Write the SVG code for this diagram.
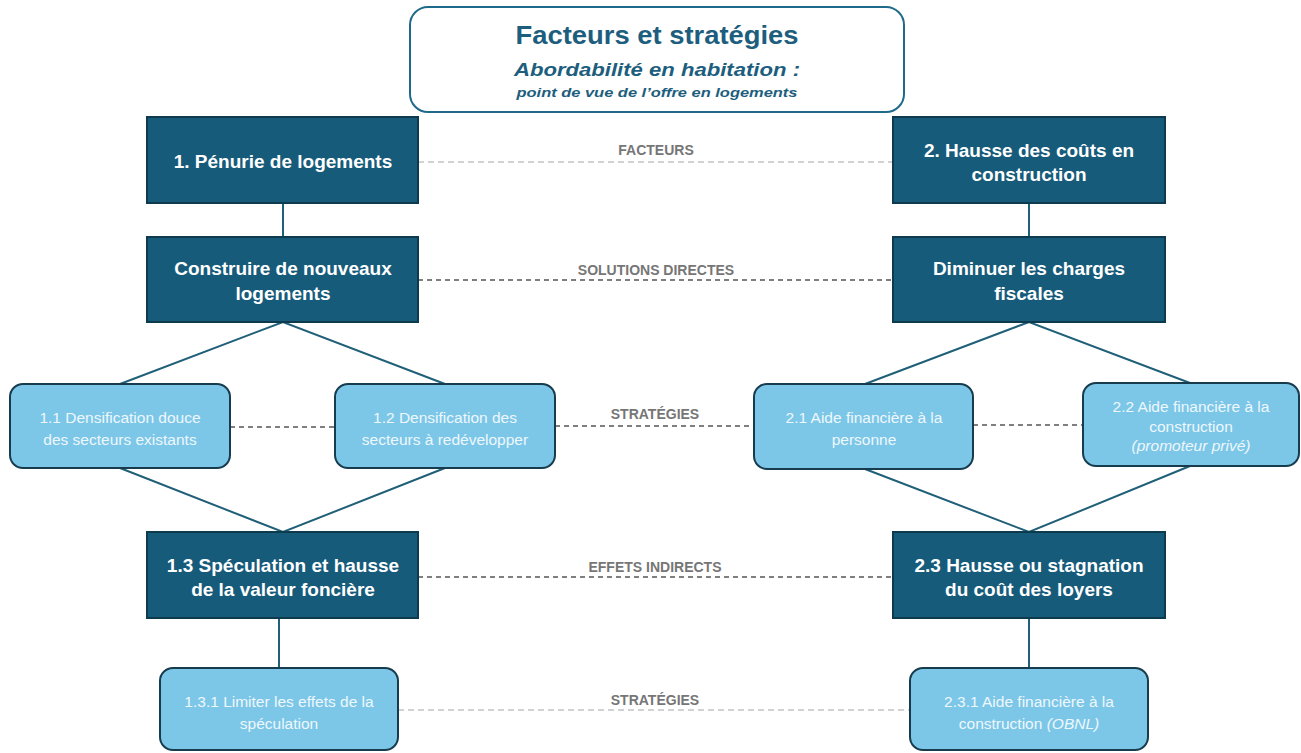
<svg xmlns="http://www.w3.org/2000/svg" width="1301" height="753" viewBox="0 0 1301 753">
<style>
.dark{fill:#175b7a;stroke:#0e3a4e;stroke-width:2}
.light{fill:#7cc6e8;stroke:#173c4e;stroke-width:2}
.dt{font-family:"Liberation Sans",Arial,sans-serif;font-weight:bold;font-size:19px;fill:#ffffff;text-anchor:middle}
.lt{font-family:"Liberation Sans",Arial,sans-serif;font-size:15.5px;fill:#eef8fc;text-anchor:middle}
.lab{font-family:"Liberation Sans",Arial,sans-serif;font-weight:bold;font-size:14px;fill:#767676;text-anchor:middle}
.solid{stroke:#1f5f78;stroke-width:2;fill:none}
.dash1{stroke:#c4c4c4;stroke-width:1.5;stroke-dasharray:6 4;fill:none}
.dash2{stroke:#555;stroke-width:1.3;stroke-dasharray:5 4;fill:none}
</style>
<rect width="1301" height="753" fill="#ffffff"/>
<g id="connectors">
<line class="dash1" x1="418" y1="162" x2="893" y2="162"/>
<line class="dash2" x1="418" y1="280" x2="893" y2="280"/>
<line class="dash2" x1="230" y1="427" x2="335" y2="427"/>
<line class="dash2" x1="555" y1="426" x2="754" y2="426"/>
<line class="dash2" x1="973" y1="425" x2="1083" y2="425"/>
<line class="dash2" x1="418" y1="577" x2="893" y2="577"/>
<line class="dash1" x1="398" y1="710" x2="910" y2="710"/>
<line class="solid" x1="283" y1="203" x2="283" y2="237"/>
<line class="solid" x1="1029" y1="203" x2="1029" y2="237"/>
<polyline class="solid" points="120,384 283,322 445,384"/>
<polyline class="solid" points="865,384 1029,322 1190,383"/>
<polyline class="solid" points="120,468 283,532 445,468"/>
<polyline class="solid" points="865,469 1029,532 1190,466"/>
<line class="solid" x1="279" y1="618" x2="279" y2="668"/>
<line class="solid" x1="1029" y1="618" x2="1029" y2="668"/>
<text class="lab" x="656" y="155">FACTEURS</text>
<text class="lab" x="656" y="275">SOLUTIONS DIRECTES</text>
<text class="lab" x="655" y="419">STRATÉGIES</text>
<text class="lab" x="655" y="572">EFFETS INDIRECTS</text>
<text class="lab" x="655" y="705">STRATÉGIES</text>
</g>
<g id="title">
<rect x="410" y="7" width="494" height="105" rx="18" fill="#ffffff" stroke="#1f6a8a" stroke-width="2"/>
<text x="657" y="44" font-family="Liberation Sans,Arial,sans-serif" font-weight="bold" font-size="25" fill="#1d5e7e" text-anchor="middle" textLength="283" lengthAdjust="spacingAndGlyphs">Facteurs et stratégies</text>
<text x="657" y="76" font-family="Liberation Sans,Arial,sans-serif" font-weight="bold" font-style="italic" font-size="19" fill="#1d5e7e" text-anchor="middle" textLength="286" lengthAdjust="spacingAndGlyphs">Abordabilité en habitation :</text>
<text x="657" y="97" font-family="Liberation Sans,Arial,sans-serif" font-weight="bold" font-style="italic" font-size="13.5" fill="#1d5e7e" text-anchor="middle" textLength="281" lengthAdjust="spacingAndGlyphs">point de vue de l’offre en logements</text>
</g>
<g id="n1">
<rect class="dark" x="147" y="117" width="271" height="86"/>
<text class="dt" x="283" y="168">1. Pénurie de logements</text>
</g>
<g id="n2">
<rect class="dark" x="893" y="117" width="272" height="86"/>
<text class="dt" x="1029" y="157">2. Hausse des coûts en</text>
<text class="dt" x="1029" y="181">construction</text>
</g>
<g id="s1">
<rect class="dark" x="147" y="237" width="271" height="85"/>
<text class="dt" x="283" y="275">Construire de nouveaux</text>
<text class="dt" x="283" y="300">logements</text>
</g>
<g id="s2">
<rect class="dark" x="893" y="237" width="272" height="85"/>
<text class="dt" x="1029" y="275">Diminuer les charges</text>
<text class="dt" x="1029" y="300">fiscales</text>
</g>
<g id="n11">
<rect class="light" x="10" y="384" width="220" height="84" rx="13"/>
<text class="lt" x="120" y="423">1.1 Densification douce</text>
<text class="lt" x="120" y="445">des secteurs existants</text>
</g>
<g id="n12">
<rect class="light" x="335" y="384" width="220" height="84" rx="13"/>
<text class="lt" x="445" y="423">1.2 Densification des</text>
<text class="lt" x="445" y="445">secteurs à redévelopper</text>
</g>
<g id="n21">
<rect class="light" x="754" y="384" width="219" height="85" rx="13"/>
<text class="lt" x="864" y="423">2.1 Aide financière à la</text>
<text class="lt" x="864" y="445">personne</text>
</g>
<g id="n22">
<rect class="light" x="1083" y="383" width="216" height="83" rx="13"/>
<text class="lt" x="1191" y="412">2.2 Aide financière à la</text>
<text class="lt" x="1191" y="432">construction</text>
<text class="lt" x="1191" y="451" font-style="italic" font-size="13">(promoteur privé)</text>
</g>
<g id="n13">
<rect class="dark" x="147" y="532" width="271" height="86"/>
<text class="dt" x="283" y="572">1.3 Spéculation et hausse</text>
<text class="dt" x="283" y="596">de la valeur foncière</text>
</g>
<g id="n23">
<rect class="dark" x="893" y="532" width="272" height="86"/>
<text class="dt" x="1029" y="572">2.3 Hausse ou stagnation</text>
<text class="dt" x="1029" y="596">du coût des loyers</text>
</g>
<g id="n131">
<rect class="light" x="160" y="668" width="238" height="82" rx="13"/>
<text class="lt" x="279" y="707">1.3.1 Limiter les effets de la</text>
<text class="lt" x="279" y="729">spéculation</text>
</g>
<g id="n231">
<rect class="light" x="910" y="668" width="238" height="82" rx="13"/>
<text class="lt" x="1029" y="707">2.3.1 Aide financière à la</text>
<text class="lt" x="1029" y="729">construction <tspan font-style="italic">(OBNL)</tspan></text>
</g>
</svg>
